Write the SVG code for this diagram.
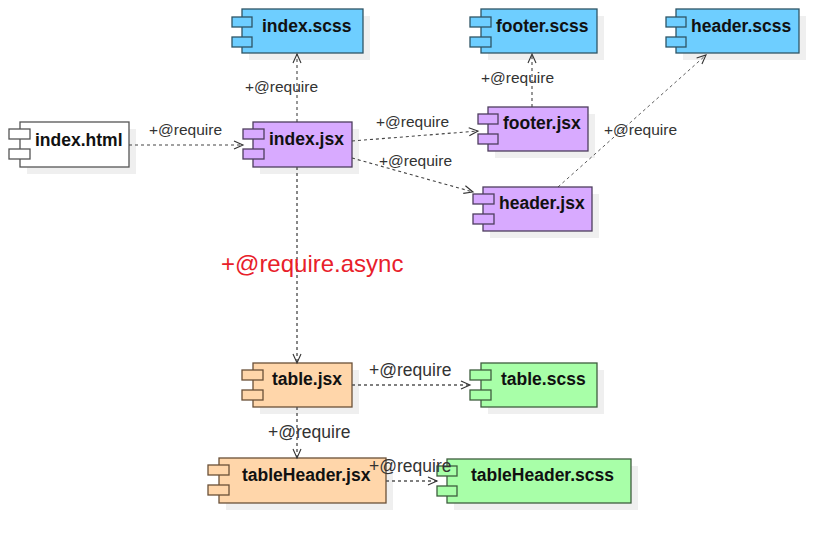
<svg xmlns="http://www.w3.org/2000/svg" width="839" height="543" viewBox="0 0 839 543">
<style>
.sh{fill:#EFEFEF}
.box{stroke-width:1.3}
.b{fill:#6ECEFF;stroke:#2E5566}
.p{fill:#D8AAFF;stroke:#4E3E5E}
.o{fill:#FFD6AA;stroke:#6A5038}
.g{fill:#A8FFA8;stroke:#3E5E3E}
.w{fill:#FFFFFF;stroke:#555555}
.t{font-family:"Liberation Sans",Arial,sans-serif;font-weight:bold;font-size:17.5px;fill:#111}
.l{font-family:"Liberation Sans",Arial,sans-serif;font-size:15.5px;fill:#333}
.l2{font-family:"Liberation Sans",Arial,sans-serif;font-size:17.5px;fill:#333}
.red{font-family:"Liberation Sans",Arial,sans-serif;font-size:24px;fill:#E8202A}
.c{fill:none;stroke:#444;stroke-width:1.1;stroke-dasharray:3,3}
.c2{fill:none;stroke:#555;stroke-width:1.4;stroke-dasharray:3,3}
.c3{fill:none;stroke:#333;stroke-width:0.8;stroke-dasharray:3,3}
.ah{fill:none;stroke:#333;stroke-width:1.1}
</style>
<defs>
<marker id="arr" markerWidth="12" markerHeight="12" refX="10" refY="6" orient="auto" markerUnits="userSpaceOnUse">
<path d="M1,2 L10,6 L1,10" class="ah"/>
</marker>
</defs>

<g id="index_html">
<rect class="sh" x="27" y="129" width="109" height="45"/>
<rect class="box w" x="20" y="122" width="109" height="45"/>
<rect class="box w" x="9" y="129" width="21" height="10"/>
<rect class="box w" x="9" y="149" width="21" height="10"/>
<text class="t" x="35" y="146">index.html</text>
</g>

<g id="index_jsx">
<rect class="sh" x="260" y="129" width="99" height="45"/>
<rect class="box p" x="253" y="122" width="99" height="45"/>
<rect class="box p" x="243" y="129" width="21" height="10"/>
<rect class="box p" x="243" y="149" width="21" height="10"/>
<text class="t" x="269" y="145">index.jsx</text>
</g>

<g id="index_scss">
<rect class="sh" x="249" y="16" width="121" height="44"/>
<rect class="box b" x="242" y="9" width="121" height="44"/>
<rect class="box b" x="232" y="17" width="20" height="10"/>
<rect class="box b" x="232" y="37" width="20" height="10"/>
<text class="t" x="262" y="32">index.scss</text>
</g>

<g id="footer_scss">
<rect class="sh" x="488" y="16" width="116" height="44"/>
<rect class="box b" x="481" y="9" width="116" height="44"/>
<rect class="box b" x="470" y="17" width="21" height="10"/>
<rect class="box b" x="470" y="37" width="21" height="10"/>
<text class="t" x="496" y="32">footer.scss</text>
</g>

<g id="header_scss">
<rect class="sh" x="683" y="16" width="123" height="44"/>
<rect class="box b" x="676" y="9" width="123" height="44"/>
<rect class="box b" x="666" y="17" width="20" height="10"/>
<rect class="box b" x="666" y="37" width="20" height="10"/>
<text class="t" x="691" y="32">header.scss</text>
</g>

<g id="footer_jsx">
<rect class="sh" x="495" y="114" width="100" height="44"/>
<rect class="box p" x="488" y="107" width="100" height="44"/>
<rect class="box p" x="478" y="114" width="20" height="10"/>
<rect class="box p" x="478" y="134" width="20" height="10"/>
<text class="t" x="503" y="129">footer.jsx</text>
</g>

<g id="header_jsx">
<rect class="sh" x="490" y="194" width="109" height="44"/>
<rect class="box p" x="483" y="187" width="109" height="44"/>
<rect class="box p" x="473" y="194" width="21" height="10"/>
<rect class="box p" x="473" y="214" width="21" height="10"/>
<text class="t" x="499" y="209">header.jsx</text>
</g>

<g id="table_jsx">
<rect class="sh" x="260" y="370" width="99" height="44"/>
<rect class="box o" x="253" y="363" width="99" height="44"/>
<rect class="box o" x="242" y="370" width="21" height="10"/>
<rect class="box o" x="242" y="390" width="21" height="10"/>
<text class="t" x="272" y="385">table.jsx</text>
</g>

<g id="table_scss">
<rect class="sh" x="488" y="370" width="116" height="44"/>
<rect class="box g" x="481" y="363" width="116" height="44"/>
<rect class="box g" x="470" y="370" width="21" height="10"/>
<rect class="box g" x="470" y="390" width="21" height="10"/>
<text class="t" x="501" y="385">table.scss</text>
</g>

<g id="tableHeader_jsx">
<rect class="sh" x="226" y="465" width="167" height="45"/>
<rect class="box o" x="219" y="458" width="167" height="45"/>
<rect class="box o" x="208" y="465" width="21" height="10"/>
<rect class="box o" x="208" y="485" width="21" height="10"/>
<text class="t" x="242" y="481">tableHeader.jsx</text>
</g>

<g id="tableHeader_scss">
<rect class="sh" x="454" y="466" width="184" height="44"/>
<rect class="box g" x="447" y="459" width="184" height="44"/>
<rect class="box g" x="437" y="466" width="20" height="10"/>
<rect class="box g" x="437" y="486" width="20" height="10"/>
<text class="t" x="471" y="481">tableHeader.scss</text>
</g>

<g id="connectors">
<line class="c" x1="129" y1="145" x2="243" y2="145" marker-end="url(#arr)"/>
<line class="c" x1="297" y1="122" x2="297" y2="54" marker-end="url(#arr)"/>
<line class="c" x1="352" y1="141" x2="478" y2="131" marker-end="url(#arr)"/>
<line class="c" x1="352" y1="158" x2="473" y2="192" marker-end="url(#arr)"/>
<line class="c" x1="532" y1="107" x2="532" y2="54" marker-end="url(#arr)"/>
<line class="c3" x1="558" y1="187" x2="706" y2="55" marker-end="url(#arr)"/>
<line class="c2" x1="297" y1="167" x2="297" y2="363" marker-end="url(#arr)"/>
<line class="c2" x1="352" y1="385" x2="470" y2="385" marker-end="url(#arr)"/>
<line class="c2" x1="297" y1="407" x2="297" y2="458" marker-end="url(#arr)"/>
<line class="c2" x1="386" y1="481" x2="437" y2="481" marker-end="url(#arr)"/>
<text class="l" x="149" y="135">+@require</text>
<text class="l" x="245" y="92">+@require</text>
<text class="l" x="376" y="127">+@require</text>
<text class="l" x="379" y="166">+@require</text>
<text class="l" x="481" y="83">+@require</text>
<text class="l" x="604" y="135">+@require</text>
<text class="red" x="221" y="272">+@require.async</text>
<text class="l2" x="369" y="376">+@require</text>
<text class="l2" x="268" y="438">+@require</text>
<text class="l2" x="369" y="472">+@require</text>
</g>
</svg>
